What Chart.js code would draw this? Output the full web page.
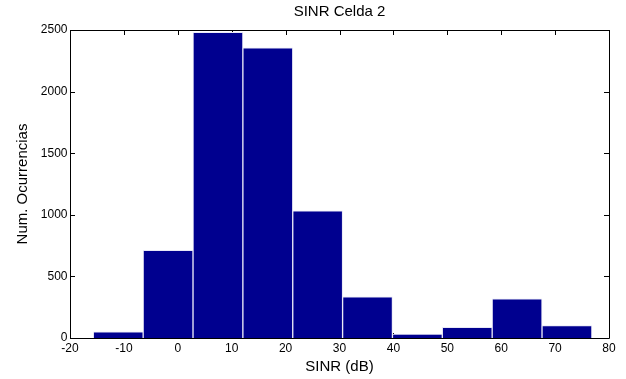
<!DOCTYPE html>
<html>
<head>
<meta charset="utf-8">
<script src="https://cdn.jsdelivr.net/npm/chart.js@4.4.1/dist/chart.umd.min.js"></script>
<style>
html,body{margin:0;padding:0;background:#fff;}
#wrap{width:626px;height:379px;}
</style>
</head>
<body>
<div id="wrap"><canvas id="c" width="626" height="379"></canvas></div>
<script>
// Histogram bin centers (SINR dB) and counts
const binCenters = [-11.05, -1.8, 7.45, 16.7, 25.95, 35.2, 44.45, 53.7, 62.95, 72.2];
const counts = [51, 712, 2481, 2356, 1033, 335, 32, 87, 317, 100];
const xTicks = [-20, -10, 0, 10, 20, 30, 40, 50, 60, 70, 80];
const yTicks = [0, 500, 1000, 1500, 2000, 2500];

const FONT = 'Liberation Sans, Arial, sans-serif';

const boxPlugin = {
  id: 'box',
  beforeDatasetsDraw(chart) {
    const {ctx, chartArea: a, scales} = chart;
    ctx.save();
    ctx.strokeStyle = '#000';
    ctx.lineWidth = 1;
    ctx.beginPath();
    ctx.rect(Math.round(a.left) + 0.5, Math.round(a.top) + 0.5, Math.round(a.right - a.left), Math.round(a.bottom - a.top));
    ctx.stroke();
    const tl = 5;
    ctx.beginPath();
    xTicks.forEach(v => {
      const x = Math.round(scales.x.getPixelForValue(v)) + 0.5;
      ctx.moveTo(x, a.bottom); ctx.lineTo(x, a.bottom - tl);
      ctx.moveTo(x, a.top); ctx.lineTo(x, a.top + tl);
    });
    yTicks.forEach(v => {
      const y = Math.round(scales.y.getPixelForValue(v)) + 0.5;
      ctx.moveTo(a.left, y); ctx.lineTo(a.left + tl, y);
      ctx.moveTo(a.right, y); ctx.lineTo(a.right - tl, y);
    });
    ctx.stroke();
    ctx.restore();
  }
};

new Chart(document.getElementById('c'), {
  type: 'bar',
  data: {
    datasets: [{
      data: binCenters.map((x, i) => ({x: x, y: counts[i]})),
      backgroundColor: '#00008F',
      borderColor: '#e8e8f6',
      borderWidth: 1,
      barPercentage: 1.0,
      categoryPercentage: 1.0,
      grouped: false
    }]
  },
  options: {
    responsive: false,
    animation: false,
    devicePixelRatio: 1,
    layout: {padding: {left: 0, right: 17, top: 0, bottom: 0}},
    plugins: {
      legend: {display: false},
      tooltip: {enabled: false},
      title: {
        display: true,
        text: 'SINR Celda 2',
        color: '#000',
        fullSize: false,
        font: {family: FONT, size: 15, weight: 'normal'},
        padding: {top: 3, bottom: 9}
      }
    },
    scales: {
      x: {
        type: 'linear',
        min: -20, max: 80,
        offset: false,
        afterBuildTicks: s => { s.ticks = xTicks.map(v => ({value: v})); },
        afterFit: s => { s.height = 41; },
        grid: {display: false, drawTicks: false, offset: false},
        border: {display: false},
        ticks: {color: '#000', font: {family: FONT, size: 12}, padding: 3, maxRotation: 0, autoSkip: false, callback: v => String(v)},
        title: {display: true, text: 'SINR (dB)', color: '#000', font: {family: FONT, size: 15}, padding: {top: 0, bottom: 3.5}}
      },
      y: {
        min: 0, max: 2500,
        afterBuildTicks: s => { s.ticks = yTicks.map(v => ({value: v})); },
        afterFit: s => { s.width = 70; },
        grid: {display: false, drawTicks: false},
        border: {display: false},
        ticks: {color: '#000', font: {family: FONT, size: 12}, padding: 2.5, callback: v => String(v)},
        title: {display: true, text: 'Num. Ocurrencias', color: '#000', font: {family: FONT, size: 15}, padding: {top: 13.5, bottom: 0}}
      }
    }
  },
  plugins: [boxPlugin]
});
</script>
</body>
</html>
